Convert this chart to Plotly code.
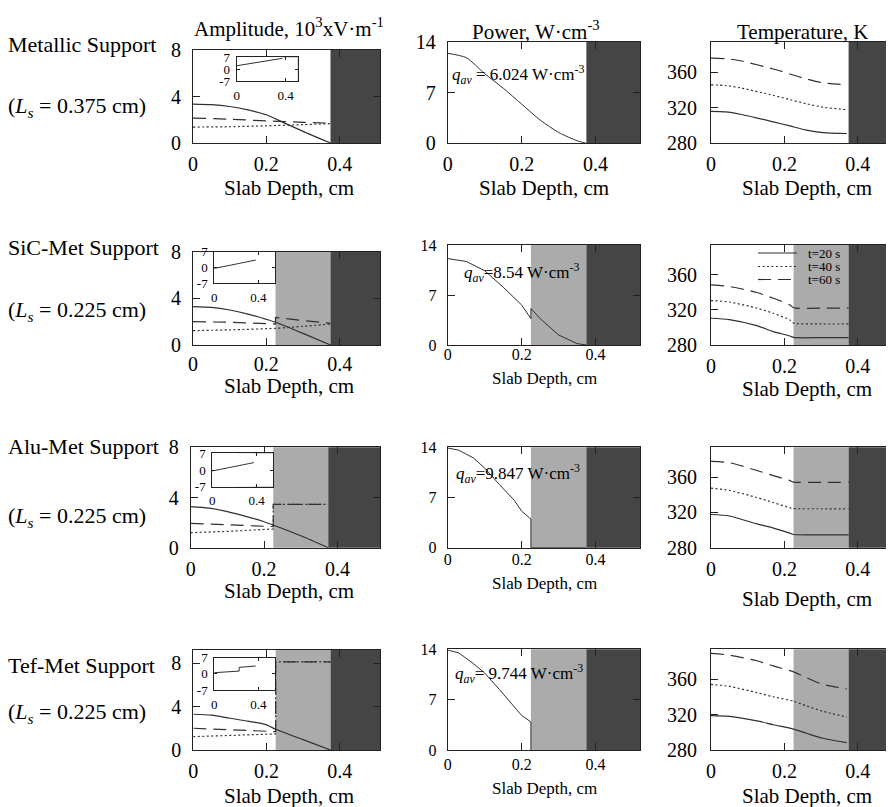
import plotly.graph_objects as go

# ---------------- data ----------------
row_names = ["Metallic Support", "SiC-Met Support", "Alu-Met Support", "Tef-Met Support"]
slab_lengths = ["0.375", "0.225", "0.225", "0.225"]
q_av_values = ["6.024", "8.54", "9.847", "9.744"]
time_labels = ["t=20 s", "t=40 s", "t=60 s"]

metal_start = 0.375                       # start of dark (metal) layer, cm
support_start = [None, 0.225, 0.225, 0.225]  # start of light-grey (support) layer, cm

# Amplitude (10^3 V/m) - solid / dotted / dashed
amp1_solid_x = [0, 0.05, 0.1, 0.15, 0.2, 0.25, 0.3, 0.375]
amp1_solid_y = [3.35, 3.3, 3.14, 2.85, 2.43, 1.71, 1.0, 0]
amp1_dot_x = [0, 0.1, 0.2, 0.3, 0.375]
amp1_dot_y = [1.37, 1.4, 1.48, 1.58, 1.66]
amp1_dash_x = [0, 0.1, 0.2, 0.3, 0.375]
amp1_dash_y = [2.14, 2.05, 1.9, 1.78, 1.71]

amp2_solid_x = [0, 0.05, 0.1, 0.15, 0.2, 0.225, 0.3, 0.375]
amp2_solid_y = [3.29, 3.22, 3.0, 2.65, 2.2, 1.95, 1.0, 0]
amp2_dot_x = [0, 0.1, 0.225, 0.3, 0.375]
amp2_dot_y = [1.23, 1.3, 1.43, 1.6, 1.8]
amp2_dash_x = [0, 0.1, 0.225, 0.225, 0.3, 0.375]
amp2_dash_y = [2.0, 1.95, 1.8, 2.37, 2.1, 1.86]

amp3_solid_x = [0, 0.05, 0.1, 0.15, 0.2, 0.225, 0.3, 0.375]
amp3_solid_y = [3.27, 3.15, 2.87, 2.5, 2.07, 1.81, 0.95, 0]
amp3_dot_x = [0, 0.1, 0.225, 0.225, 0.375]
amp3_dot_y = [1.2, 1.3, 1.49, 3.46, 3.46]
amp3_dash_x = [0, 0.1, 0.225, 0.225, 0.375]
amp3_dash_y = [1.94, 1.85, 1.68, 3.46, 3.46]

amp4_solid_x = [0, 0.05, 0.1, 0.15, 0.2, 0.225, 0.3, 0.375]
amp4_solid_y = [3.29, 3.2, 2.92, 2.65, 2.31, 1.91, 0.95, 0]
amp4_dot_x = [0, 0.1, 0.225, 0.225, 0.375]
amp4_dot_y = [1.23, 1.32, 1.48, 8.1, 8.1]
amp4_dash_x = [0, 0.1, 0.225, 0.225, 0.375]
amp4_dash_y = [2.0, 1.88, 1.69, 8.1, 8.1]

# Inset curves
ins1_x = [0, 0.375]
ins1_y = [2.0, 6.4]
ins2_x = [0, 0.225, 0.375]
ins2_y = [-0.4, 1.8, 3.3]
ins3_x = [0, 0.225, 0.375]
ins3_y = [-0.4, 1.7, 3.1]
ins4_x = [0, 0.225, 0.225, 0.375]
ins4_y = [0.5, 1.2, 2.8, 3.4]

# Power (W/cm^3)
pow1_x = [0, 0.05, 0.1, 0.15, 0.2, 0.25, 0.3, 0.35, 0.375]
pow1_y = [12.4, 11.8, 9.6, 7.6, 5.4, 3.2, 1.5, 0.35, 0]
pow2_x = [0, 0.05, 0.1, 0.15, 0.2, 0.225, 0.225, 0.25, 0.3, 0.35, 0.375]
pow2_y = [12.1, 11.7, 10.4, 8.1, 5.6, 3.7, 5.1, 3.7, 1.4, 0.2, 0]
pow3_x = [0, 0.03, 0.07, 0.1, 0.14, 0.18, 0.2, 0.225, 0.225, 0.375]
pow3_y = [13.9, 13.6, 12.5, 11.1, 8.8, 6.6, 5.1, 4.0, 0, 0]
pow4_x = [0, 0.03, 0.07, 0.1, 0.14, 0.18, 0.2, 0.225, 0.225]
pow4_y = [13.9, 13.5, 12.0, 10.7, 8.4, 5.9, 4.8, 3.9, 0]

# Temperature (K) at t = 20, 40, 60 s
temp1_x = [0, 0.04, 0.08, 0.17, 0.215, 0.26, 0.305, 0.37]
temp1_t20 = [315.9, 315.3, 312.6, 304.0, 299.5, 294.8, 292.0, 291.0]
temp1_t40 = [345.6, 344.8, 342.2, 333.7, 329.0, 324.4, 320.5, 317.8]
temp1_t60 = [375.6, 375.0, 372.6, 363.4, 357.8, 352.2, 347.8, 345.6]

temp2_x = [0, 0.05, 0.125, 0.17, 0.215, 0.225, 0.3, 0.375]
temp2_t20 = [310.5, 309.0, 302.0, 295.2, 290.3, 288.6, 288.4, 288.4]
temp2_t40 = [330.7, 329.0, 322.0, 316.2, 308.6, 305.0, 304.0, 304.0]
temp2_t60 = [348.6, 346.7, 339.8, 333.3, 325.7, 322.5, 322.0, 322.0]

temp3_x = [0, 0.05, 0.125, 0.17, 0.215, 0.225, 0.3, 0.375]
temp3_t20 = [317.7, 316.0, 307.0, 302.3, 296.5, 295.0, 294.6, 294.6]
temp3_t40 = [347.7, 345.0, 337.0, 331.2, 325.4, 324.5, 324.2, 324.2]
temp3_t60 = [378.0, 376.5, 367.7, 361.9, 356.2, 354.5, 354.2, 354.2]

temp4_x = [0, 0.05, 0.125, 0.17, 0.225, 0.26, 0.305, 0.37]
temp4_t20 = [318.9, 318.0, 313.0, 308.6, 303.6, 299.0, 293.3, 288.4]
temp4_t40 = [354.3, 352.0, 345.0, 340.2, 335.2, 330.0, 323.8, 317.3]
temp4_t60 = [389.3, 387.4, 381.0, 375.2, 368.4, 361.9, 354.3, 349.3]

amp_x_ticks = [0, 0.2, 0.4]
amp_y_ticks = [0, 4, 8]
pow_y_ticks = [0, 7, 14]
temp_y_ticks = [280, 320, 360]
ins_x_ticks = [0, 0.4]
ins_y_ticks = [-7, 0, 7]

# ---------------- styling / layout ----------------
W, H = 894, 807          # screen size of the reference
OFF = 8                  # page body margin of the written html
FW, FH = W - OFF, H - OFF
FONT = "Liberation Serif, Times New Roman, serif"
INK = "#222222"
DARK = "#454545"
LIGHT = "#ababab"
CURVE = "#303030"
BIG, TICK, SMALL = 21, 20, 16
DASHES = {"solid": "solid", "dot": "2px,2.5px", "dash": "13px,7px"}


def fx(p):
    return (p - OFF) / FW


def fy(p):
    return 1 - (p - OFF) / FH


A_boxes = [(193, 380, 50, 143), (193, 380, 251.7, 345), (190.7, 380, 447.3, 547.7), (193.3, 380, 650, 750)]
P_boxes = [(447.7, 640, 41.7, 143.3), (447.7, 640, 245, 345), (447.7, 640, 447.3, 547.7), (447.7, 640, 649.3, 750)]
T_boxes = [(711, 893, 41.7, 143.3), (711, 893, 245, 345), (711, 893, 447.3, 547.7), (711, 893, 649.3, 750)]
I_boxes = [(236.7, 297.7, 57.3, 81), (214.3, 275, 251.7, 283.3), (212.3, 273.3, 453.3, 486.7), (214.3, 275, 657.7, 690)]

fig = go.Figure()
layout = {}
shapes = []
annotations = []
counter = [0]


def new_axes(box, xr, yr, xt, yt, fsize, xstand, ystand, ticklen=7):
    counter[0] += 1
    i = counter[0]
    suffix = "" if i == 1 else str(i)
    l, r, t, b = box
    base = dict(showgrid=False, zeroline=False, showline=True, linecolor=INK, linewidth=1,
                mirror="ticks", ticks="inside", ticklen=ticklen, tickcolor=INK, tickwidth=1,
                tickfont=dict(family=FONT, size=fsize, color="black"), fixedrange=True,
                automargin=False)
    layout["xaxis" + suffix] = dict(base, domain=[fx(l), fx(r)], range=xr, anchor="y" + suffix,
                                    tickmode="array", tickvals=xt, ticktext=[str(v) for v in xt],
                                    ticklabelstandoff=xstand)
    layout["yaxis" + suffix] = dict(base, domain=[fy(b), fy(t)], range=yr, anchor="x" + suffix,
                                    tickmode="array", tickvals=yt, ticktext=[str(v) for v in yt],
                                    ticklabelstandoff=ystand)
    return "x" + suffix, "y" + suffix


def shade(xa, ya, x0, x1, color):
    shapes.append(dict(type="rect", xref=xa, yref=ya + " domain", x0=x0, x1=x1, y0=0, y1=1,
                       fillcolor=color, line=dict(width=0), layer="below"))


def curve(xa, ya, xs, ys, style, name=None, width=1.2):
    has_step = any(xs[i] == xs[i + 1] for i in range(len(xs) - 1))
    shape = dict(shape="linear") if has_step else dict(shape="spline", smoothing=0.7)
    fig.add_trace(go.Scatter(x=xs, y=ys, xaxis=xa, yaxis=ya, mode="lines", name=name,
                             showlegend=False, hoverinfo="skip",
                             line=dict(color=CURVE, width=width, dash=DASHES[style], **shape)))


def text(s, x, y, size, xanchor="center", yanchor="middle"):
    annotations.append(dict(text=s, x=fx(x), y=fy(y), xref="paper", yref="paper", showarrow=False,
                            xanchor=xanchor, yanchor=yanchor,
                            font=dict(family=FONT, size=size, color="black")))


amp_data = [
    [(amp1_solid_x, amp1_solid_y, "solid"), (amp1_dot_x, amp1_dot_y, "dot"), (amp1_dash_x, amp1_dash_y, "dash")],
    [(amp2_solid_x, amp2_solid_y, "solid"), (amp2_dot_x, amp2_dot_y, "dot"), (amp2_dash_x, amp2_dash_y, "dash")],
    [(amp3_solid_x, amp3_solid_y, "solid"), (amp3_dot_x, amp3_dot_y, "dot"), (amp3_dash_x, amp3_dash_y, "dash")],
    [(amp4_solid_x, amp4_solid_y, "solid"), (amp4_dot_x, amp4_dot_y, "dot"), (amp4_dash_x, amp4_dash_y, "dash")],
]
ins_data = [(ins1_x, ins1_y), (ins2_x, ins2_y), (ins3_x, ins3_y), (ins4_x, ins4_y)]
pow_data = [(pow1_x, pow1_y), (pow2_x, pow2_y), (pow3_x, pow3_y), (pow4_x, pow4_y)]
temp_data = [
    (temp1_x, [temp1_t20, temp1_t40, temp1_t60]),
    (temp2_x, [temp2_t20, temp2_t40, temp2_t60]),
    (temp3_x, [temp3_t20, temp3_t40, temp3_t60]),
    (temp4_x, [temp4_t20, temp4_t40, temp4_t60]),
]
styles = ["solid", "dot", "dash"]

amp_xmax = [0.51, 0.51, 0.516, 0.51]
amp_ymax = [8, 8, 8, 9.2]
ins_xmax = [0.5, 0.55, 0.55, 0.55]
pow_xmax = 0.52
temp_xmax = 0.496
amp_xstand = [3, 1, 3, 3]
pow_xstand = [3, -5, -3, 0]
pow_fsize = [TICK, SMALL, SMALL, SMALL]
amp_xtitle_y = [188, 386, 591, 796]
pow_xtitle_y = [188, 378, 583, 788]
temp_xtitle_y = [188, 389, 599, 796]
row_label_y = [(45, 107), (247, 311), (446, 517), (665, 713)]
q_pos = [(450, 75), (461.7, 272), (454, 473), (452.7, 673)]
q_sep = [" = ", "=", "=", "= "]

legend_axes = None
for r in range(4):
    sup = support_start[r]
    # ---- amplitude ----
    xa, ya = new_axes(A_boxes[r], [0, amp_xmax[r]], [0, amp_ymax[r]], amp_x_ticks, amp_y_ticks,
                      TICK, amp_xstand[r], 7)
    if sup is not None:
        shade(xa, ya, sup, metal_start, LIGHT)
    shade(xa, ya, metal_start, amp_xmax[r], DARK)
    for xs, ys, st in amp_data[r]:
        curve(xa, ya, xs, ys, st)
    # ---- inset ----
    xi, yi = new_axes(I_boxes[r], [0, ins_xmax[r]], [-7, 7], ins_x_ticks, ins_y_ticks, 13, 2, 3,
                      ticklen=3)
    if sup is not None:
        shade(xi, yi, sup, metal_start, LIGHT)
    shade(xi, yi, metal_start, ins_xmax[r], DARK)
    curve(xi, yi, ins_data[r][0], ins_data[r][1], "solid", width=1)
    # ---- power ----
    xp, yp = new_axes(P_boxes[r], [0, pow_xmax], [0, 14], amp_x_ticks, pow_y_ticks,
                      pow_fsize[r], pow_xstand[r], 7)
    if sup is not None:
        shade(xp, yp, sup, metal_start, LIGHT)
    shade(xp, yp, metal_start, pow_xmax, DARK)
    curve(xp, yp, pow_data[r][0], pow_data[r][1], "solid", width=1)
    # ---- temperature ----
    xt, yt = new_axes(T_boxes[r], [0, temp_xmax], [280, 394], amp_x_ticks, temp_y_ticks,
                      TICK, 3, 9)
    if sup is not None:
        shade(xt, yt, sup, metal_start, LIGHT)
    shade(xt, yt, metal_start, temp_xmax + 0.05, DARK)
    for k, ys in enumerate(temp_data[r][1]):
        curve(xt, yt, temp_data[r][0], ys, styles[k], name=time_labels[k])
    if r == 1:
        legend_axes = (xt, yt)

    # ---- texts ----
    text(row_names[r], 6, row_label_y[r][0], 22, xanchor="left")
    text("(<i>L</i><sub><i>s</i></sub> = " + slab_lengths[r] + " cm)", 6, row_label_y[r][1], 22,
         xanchor="left")
    text("Slab Depth, cm", 289, amp_xtitle_y[r], BIG)
    text("Slab Depth, cm", 544, pow_xtitle_y[r], BIG if r == 0 else 17)
    text("Slab Depth, cm", 807, temp_xtitle_y[r], BIG)
    text("<i>q</i><sub><i>av</i></sub>" + q_sep[r] + q_av_values[r] + " W·cm<sup>-3</sup>",
         q_pos[r][0], q_pos[r][1], 17, xanchor="left")

# key for the time curves (drawn inside the SiC-Met temperature panel)
lx, ly = legend_axes
t_box = T_boxes[1]
for k, yy in enumerate([253, 266.5, 279.5]):
    fx0 = (758 - t_box[0]) / (t_box[1] - t_box[0])
    fx1 = (797 - t_box[0]) / (t_box[1] - t_box[0])
    fyy = (t_box[3] - yy) / (t_box[3] - t_box[2])
    shapes.append(dict(type="line", xref=lx + " domain", yref=ly + " domain", x0=fx0, x1=fx1,
                       y0=fyy, y1=fyy, line=dict(color=CURVE, width=1.2, dash=DASHES[styles[k]])))
    text(time_labels[k], 806, yy, 13, xanchor="left")

text("Amplitude, 10<sup>3</sup>xV·m<sup>-1</sup>", 192, 27, BIG, xanchor="left")
text("Power, W·cm<sup>-3</sup>", 536, 31, BIG)
text("Temperature, K", 802, 32, BIG)

fig.update_layout(
    width=FW, height=FH, margin=dict(l=0, r=0, t=0, b=0, autoexpand=False),
    paper_bgcolor="white", plot_bgcolor="white", showlegend=False,
    shapes=shapes, annotations=annotations,
    **layout,
)

fig.write_html("out.html")
